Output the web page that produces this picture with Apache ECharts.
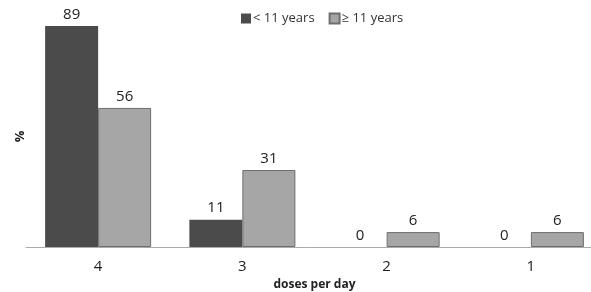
<!DOCTYPE html>
<html>
<head>
<meta charset="utf-8">
<script src="https://cdn.jsdelivr.net/npm/echarts@6/dist/echarts.min.js"></script>
<style>
  html, body { margin: 0; padding: 0; background: #fff; }
  #chart { width: 591px; height: 292px; }
</style>
</head>
<body>
<div id="chart"></div>
<script>
const categories = ['4', '3', '2', '1'];
const under11 = [89, 11, 0, 0];
const over11 = [56, 31, 6, 6];

const chart = echarts.init(document.getElementById('chart'));

const labelStyle = {
    show: true,
    position: 'top',
    distance: 4,
    color: '#222',
    fontSize: 15,
    fontFamily: 'Open Sans'
};

chart.setOption({
    animation: false,
    textStyle: {fontFamily: 'Open Sans'},
    legend: {
        top: 7,
        left: 236,
        icon: 'rect',
        itemWidth: 10,
        itemHeight: 10,
        itemGap: 14,
        textStyle: {fontSize: 13, color: '#333', padding: [0, 0, 0, -3]},
        data: ['< 11 years', '≥ 11 years']
    },
    grid: {left: 26, width: 577, top: 26, bottom: 45, outerBoundsMode: 'none', containLabel: false},
    xAxis: {
        type: 'category',
        data: categories,
        name: 'doses per day',
        nameLocation: 'middle',
        nameGap: 32,
        nameTextStyle: {fontWeight: 'bold', fontSize: 12, color: '#222'},
        axisLine: {lineStyle: {color: '#aaa', width: 1}},
        axisTick: {show: false},
        axisLabel: {fontSize: 15, color: '#222', margin: 12}
    },
    yAxis: {
        type: 'value',
        min: 0,
        max: 89,
        name: '%',
        nameLocation: 'middle',
        nameGap: -1,
        nameRotate: 90,
        nameTextStyle: {fontWeight: 'bold', fontSize: 13, color: '#222'},
        axisLine: {show: false},
        axisTick: {show: false},
        axisLabel: {show: false},
        splitLine: {show: false}
    },
    series: [
        {
            name: '< 11 years',
            type: 'bar',
            data: under11,
            barWidth: 53,
            barGap: '0%',
            itemStyle: {color: '#4b4b4b'},
            label: labelStyle
        },
        {
            name: '≥ 11 years',
            type: 'bar',
            data: over11,
            barWidth: 53,
            itemStyle: {color: '#a6a6a6', borderColor: '#6e6e6e', borderWidth: 1},
            label: labelStyle
        }
    ]
});
</script>
</body>
</html>
